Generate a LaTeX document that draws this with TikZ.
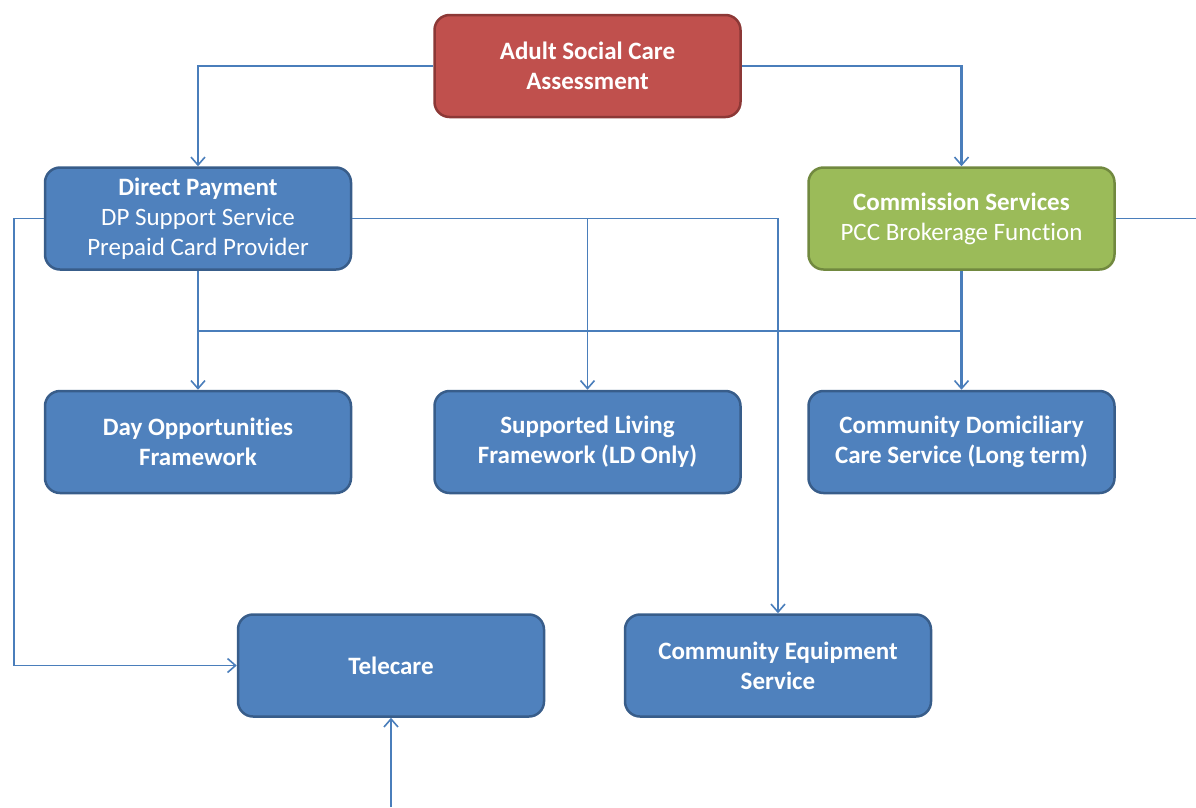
\documentclass[tikz,border=0pt]{standalone}
\usepackage{fontspec}
\setmainfont{Carlito}[Ligatures=NoCommon]
\usetikzlibrary{arrows.meta}
\definecolor{bfill}{HTML}{4F81BD}
\definecolor{bdraw}{HTML}{385D8A}
\definecolor{rfill}{HTML}{C0504D}
\definecolor{rdraw}{HTML}{8C3836}
\definecolor{gfill}{HTML}{9BBB59}
\definecolor{gdraw}{HTML}{71893F}
\definecolor{lnc}{HTML}{4A7EBB}
\tikzset{
  box/.style={rectangle, rounded corners=15pt, minimum width=306pt, minimum height=102pt,
    line width=2.5pt, draw=bdraw, fill=bfill, text=white, align=center,
    font=\fontsize{25}{30}\selectfont, inner sep=0pt},
  redbox/.style={box, draw=rdraw, fill=rfill},
  greenbox/.style={box, draw=gdraw, fill=gfill},
  thk/.style={draw=lnc, line width=2.5pt},
  thn/.style={draw=lnc, line width=1.6pt},
  arr/.style={-{Straight Barb[length=8pt,width=14pt,line width=1.6pt]}},
}
\begin{document}
\begin{tikzpicture}[x=1pt,y=-1pt]
\useasboundingbox (0,0) rectangle (1196,807);
\node[redbox] (assess) at (587.5,66) {\textbf{Adult Social Care}\\\textbf{Assessment}};
\node[box] (dp) at (198,218.5) {\textbf{Direct Payment}\\DP Support Service\\Prepaid Card Provider};
\node[greenbox] (comm) at (961.5,218.5) {\textbf{Commission Services}\\PCC Brokerage Function};
\node[box] (day) at (198,442) {\textbf{Day Opportunities}\\\textbf{Framework}};
\node[box] (sl) at (587.5,442) {\textbf{Supported Living}\\\textbf{Framework (LD Only)}};
\node[box] (cd) at (961.5,442) {\textbf{Community Domiciliary}\\\textbf{Care Service (Long term)}};
\node[box] (tel) at (391,665.5) {\textbf{Telecare}};
\node[box] (ce) at (778,665.5) {\textbf{Community Equipment}\\\textbf{Service}};
\coordinate (rend) at (1196,218.5);
\coordinate (lc) at (14,665.5);
\coordinate (bot) at (391,807);
\coordinate (hl) at (198,331);
\coordinate (hr) at (961.5,331);
% connectors
\draw[thk,arr] (assess.west) -| (dp.north);
\draw[thk,arr] (assess.east) -| (comm.north);
\draw[thn] (comm.east) -- (rend);
\draw[thn,arr] (dp.east) -| (ce.north);
\draw[thn,arr] (dp.east -| sl.north) -- (sl.north);
\draw[thn,arr] (dp.west) -| (lc) -- (tel.west);
\draw[thk,arr] (dp.south) -- (day.north);
\draw[thn] (hl) -- (hr);
\draw[thk,arr] (comm.south) -- (cd.north);
\draw[thk,arr] (bot) -- (tel.south);
\end{tikzpicture}
\end{document}
